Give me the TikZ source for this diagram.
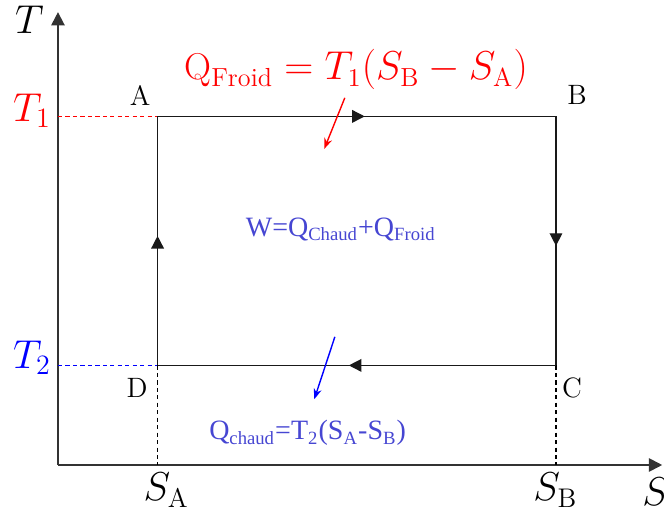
\documentclass[tikz,border=0pt]{standalone}
\usepackage{amsmath}
\usepackage{fontspec}
\newfontfamily\timesfont{Liberation Serif}
\usepackage{tikz}
\usetikzlibrary{
  arrows.meta,
  positioning,
  calc,
  decorations.markings
}
\definecolor{heatblue}{RGB}{70,70,210}

\begin{document}
\begin{tikzpicture}[scale=1.0,
  cyclepath/.style={semithick,black!90,postaction={decorate},
    decoration={markings,
      mark=at position 0.52 with {\arrow{Triangle[length=1.9mm,width=1.9mm]}}}},
  guide/.style={semithick,dash pattern=on 1.8pt off 1.4pt},
  corner/.style={font=\large},
  axislabel/.style={font=\fontsize{16.5}{20}\selectfont},
  heat/.style={font=\timesfont\large,text=heatblue}
]
  \useasboundingbox (-0.873,-0.663) rectangle (9.127,7.003);
  % axes
  \coordinate (O) at (0,0);
  \coordinate (Send) at (9.1,0);
  \coordinate (Tend) at (0,6.82);
  \draw[thick,black!80,-{Triangle[length=2mm,width=2mm]}] (O) -- (Send);
  \draw[thick,black!80,-{Triangle[length=2mm,width=2mm]}] (O) -- (Tend);
  \node[axislabel] (Slabel) at (9.0,-0.4) {$S$};
  \node[axislabel] (Tlabel) at (-0.43,6.70) {$T$};
  % corners of the cycle
  \coordinate (A) at (1.5,5.25);
  \coordinate (B) at (7.5,5.25);
  \coordinate (C) at (7.5,1.5);
  \coordinate (D) at (1.5,1.5);
  \coordinate (SA) at (1.5,0);
  \coordinate (SB) at (7.5,0);
  \coordinate (T1) at (0,5.25);
  \coordinate (T2) at (0,1.5);
  % guides to the axes
  \draw[guide,red] (T1) -- (A);
  \draw[guide,blue] (T2) -- (D);
  \draw[guide] (D) -- (SA);
  \draw[guide] (C) -- (SB);
  \node[axislabel,text=red,left] (T1label) at (0.02,5.33) {$T_1$};
  \node[axislabel,text=blue,left] (T2label) at (0.02,1.61) {$T_2$};
  \node[axislabel] (SAlabel) at (1.63,-0.38) {$S_{\mathrm{A}}$};
  \node[axislabel] (SBlabel) at (7.49,-0.38) {$S_{\mathrm{B}}$};
  % the cycle
  \foreach \p/\q in {A/B,B/C,C/D,D/A}{
    \draw[cyclepath] (\p) -- (\q);
  }
  \foreach \c/\ang/\d in {A/130/0.41,B/45/0.45,C/-55/0.42,D/-132/0.46}{
    \node[corner] (lbl\c) at ($(\c)+(\ang:\d)$) {\c};
  }
  % heats and work
  \node[font=\fontsize{16}{19}\selectfont,text=red] (qfroid) at (4.49,5.95)
    {$\mathrm{Q}_{\mathrm{Froid}} = T_1(S_{\mathrm{B}} - S_{\mathrm{A}})$};
  \coordinate (rf1) at (4.32,5.53);
  \coordinate (rf2) at (4.01,4.76);
  \draw[red,semithick,-{Stealth[length=1.6mm,width=1.2mm]}] (rf1) -- (rf2);
  \node[heat] (work) at (4.26,3.55) {W=Q\textsubscript{Chaud}+Q\textsubscript{Froid}};
  \coordinate (bc1) at (4.17,1.93);
  \coordinate (bc2) at (3.86,0.99);
  \draw[blue,semithick,-{Stealth[length=1.6mm,width=1.2mm]}] (bc1) -- (bc2);
  \node[heat] (qchaud) at (3.76,0.48) {Q\textsubscript{chaud}=T\textsubscript{2}(S\textsubscript{A}-S\textsubscript{B})};
\end{tikzpicture}
\end{document}
